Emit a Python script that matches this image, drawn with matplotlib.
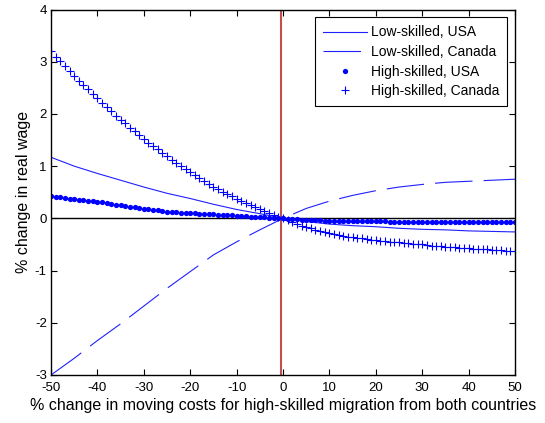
import numpy as np
import matplotlib
matplotlib.use("Agg")
import matplotlib.pyplot as plt

plt.rcParams['font.family'] = ['Liberation Sans', 'DejaVu Sans']
plt.rcParams['lines.scale_dashes'] = False
plt.rcParams['axes.unicode_minus'] = False

# x grids: lines drawn every 5, markers every 1
x_line = np.arange(-50, 51, 5)
x_mark = np.arange(-50, 51)

# Low-skilled, USA (solid)
ls_usa = [1.17, 1.00, 0.86, 0.73, 0.60, 0.48, 0.38, 0.27, 0.17, 0.09, 0.0,
          -0.06, -0.11, -0.14, -0.16, -0.19, -0.21, -0.22, -0.24, -0.25, -0.26]
# Low-skilled, Canada (dashed)
ls_can = [-3.00, -2.68, -2.34, -2.02, -1.68, -1.34, -1.02, -0.70, -0.45, -0.22, 0.0,
          0.19, 0.33, 0.44, 0.53, 0.60, 0.65, 0.69, 0.71, 0.73, 0.75]

# High-skilled, USA (dots), x = -50 .. 50
hs_usa = [0.42, 0.41, 0.40, 0.39, 0.38, 0.37, 0.36, 0.35, 0.34, 0.33,
          0.32, 0.305, 0.29, 0.275, 0.26, 0.25, 0.235, 0.22, 0.21, 0.195,
          0.185, 0.175, 0.165, 0.155, 0.14, 0.13, 0.125, 0.115, 0.11, 0.105,
          0.10, 0.095, 0.09, 0.085, 0.08, 0.075, 0.07, 0.065, 0.06, 0.055,
          0.05, 0.045, 0.04, 0.035, 0.03, 0.025, 0.02, 0.015, 0.01, 0.005,
          0.0,
          -0.01, -0.015, -0.02, -0.025, -0.03, -0.033, -0.036, -0.039, -0.042, -0.045,
          -0.047, -0.049, -0.051, -0.052, -0.053, -0.054, -0.055, -0.056, -0.057, -0.058,
          -0.059, -0.06, -0.061, -0.062, -0.062, -0.063, -0.064, -0.064, -0.065, -0.065,
          -0.066, -0.066, -0.067, -0.067, -0.068, -0.068, -0.068, -0.069, -0.069, -0.069,
          -0.07, -0.07, -0.07, -0.071, -0.071, -0.071, -0.072, -0.072, -0.072, -0.072]

# High-skilled, Canada (plus), x = -50 .. 50
hs_can = [3.20, 3.10, 3.01, 2.92, 2.82, 2.73, 2.64, 2.55, 2.47, 2.38,
          2.30, 2.21, 2.13, 2.05, 1.97, 1.89, 1.82, 1.74, 1.67, 1.60,
          1.52, 1.45, 1.39, 1.32, 1.25, 1.19, 1.12, 1.06, 1.00, 0.94,
          0.88, 0.83, 0.77, 0.71, 0.66, 0.61, 0.56, 0.51, 0.47, 0.42,
          0.38, 0.34, 0.30, 0.26, 0.22, 0.18, 0.14, 0.10, 0.07, 0.03,
          0.0,
          -0.04, -0.07, -0.10, -0.14, -0.17, -0.19, -0.22, -0.24, -0.27, -0.29,
          -0.30, -0.32, -0.33, -0.35, -0.36, -0.37, -0.38, -0.40, -0.41, -0.42,
          -0.43, -0.44, -0.45, -0.45, -0.46, -0.47, -0.48, -0.49, -0.49, -0.50,
          -0.51, -0.52, -0.52, -0.53, -0.54, -0.54, -0.55, -0.56, -0.56, -0.57,
          -0.58, -0.58, -0.59, -0.59, -0.60, -0.61, -0.61, -0.62, -0.62, -0.63]

fig = plt.figure(figsize=(5.45, 4.23), dpi=100)
ax = fig.add_axes([0.0936, 0.1135, 0.8514, 0.864])

ax.axhline(0, color='black', lw=1.0, zorder=1)
ax.axvline(-0.5, color='#c0504d', lw=1.5, zorder=1)

ax.plot(x_line, ls_usa, color='#2020ff', lw=0.8, label='Low-skilled, USA')
ax.plot(x_line, ls_can, color='#2020ff', lw=0.8, dashes=(27, 8), label='Low-skilled, Canada')
ax.plot(x_mark, hs_usa, 'o', color='#0000ff', ms=3.8, mew=0, label='High-skilled, USA')
ax.plot(x_mark, hs_can, '+', color='#0000ff', ms=6, mew=0.8, label='High-skilled, Canada')

ax.set_xlim(-50, 50)
ax.set_ylim(-3, 4)
ax.set_xticks(np.arange(-50, 51, 10))
ax.set_yticks(np.arange(-3, 5, 1))
ax.tick_params(direction='in', top=True, right=True, length=4, labelsize=9.5)
ax.tick_params(axis='x', pad=5)
ax.tick_params(axis='y', pad=3)
for s in ax.spines.values():
    s.set_linewidth(1.0)

ax.set_xlabel('% change in moving costs for high-skilled migration from both countries',
              fontsize=11.5, labelpad=3)
ax.set_ylabel('% change in real wage', fontsize=11.5, labelpad=3)

leg = ax.legend(loc='upper right', fancybox=False, framealpha=1, edgecolor='black',
                fontsize=10, borderaxespad=0.55, borderpad=0.6, handlelength=3.1,
                handletextpad=0.3, labelspacing=0.4)
leg.get_frame().set_linewidth(0.8)

fig.savefig('out.png', dpi=100)
